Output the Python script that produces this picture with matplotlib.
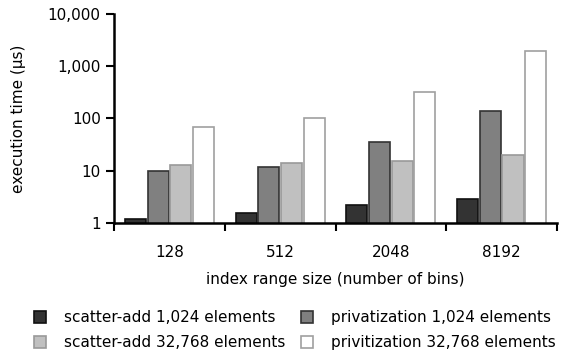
import numpy as np
import matplotlib
matplotlib.use('Agg')
import matplotlib.pyplot as plt

plt.rcParams['font.family'] = ['DejaVu Sans']

# Data
bins = ['128', '512', '2048', '8192']
scatter_1024 = [1.2, 1.5, 2.2, 2.8]
priv_1024 = [10, 11.9, 36, 138]
scatter_32768 = [12.5, 14.2, 15.5, 20]
priv_32768 = [67, 102, 320, 1950]

series = [scatter_1024, priv_1024, scatter_32768, priv_32768]
labels = ['scatter-add 1,024 elements', 'privatization 1,024 elements',
          'scatter-add 32,768 elements', 'privitization 32,768 elements']
fills = ['#333333', '#808080', '#c0c0c0', '#ffffff']
edges = ['#111111', '#333333', '#999999', '#a0a0a0']

fig = plt.figure(figsize=(5.68, 3.54), dpi=100)
ax = fig.add_axes([0.2007, 0.371, 0.78, 0.589])

x = np.arange(len(bins))
step = 0.205
width = 0.19
handles = []
for i, (vals, fc, ec, lab) in enumerate(zip(series, fills, edges, labels)):
    h = ax.bar(x + (i - 1.5) * step, vals, width, color=fc,
               edgecolor=ec, linewidth=1.2, label=lab)
    handles.append(h)

ax.set_yscale('log')
ax.set_ylim(1, 10000)
ax.set_yticks([1, 10, 100, 1000, 10000])
ax.set_yticklabels(['1', '10', '100', '1,000', '10,000'])
ax.yaxis.set_minor_locator(matplotlib.ticker.NullLocator())
ax.set_xlim(-0.5, len(bins) - 0.5)

# boundary ticks (no labels), category labels on minor ticks
ax.set_xticks(np.arange(len(bins) + 1) - 0.5)
ax.set_xticklabels([])
ax.set_xticks(x, minor=True)
ax.set_xticklabels(bins, minor=True)
ax.tick_params(axis='x', which='major', length=6, width=1.5, direction='out')
ax.tick_params(axis='x', which='minor', length=0, pad=16, labelsize=11)
ax.tick_params(axis='y', length=6, width=1.5, direction='out', labelsize=11)

for s in ['top', 'right']:
    ax.spines[s].set_visible(False)
for s in ['left', 'bottom']:
    ax.spines[s].set_linewidth(1.8)

ax.set_ylabel('execution time (µs)', fontsize=11, labelpad=16)
ax.set_xlabel('index range size (number of bins)', fontsize=11, labelpad=9)

order = [0, 2, 1, 3]
fig.legend(handles=[handles[i] for i in order], labels=[labels[i] for i in order],
           loc='lower left', bbox_to_anchor=(0.035, -0.028), ncol=2, frameon=False,
           fontsize=11, handlelength=0.8, handleheight=0.8,
           handletextpad=1.2, columnspacing=1.0, labelspacing=0.65)

fig.savefig('out.png', dpi=100)
